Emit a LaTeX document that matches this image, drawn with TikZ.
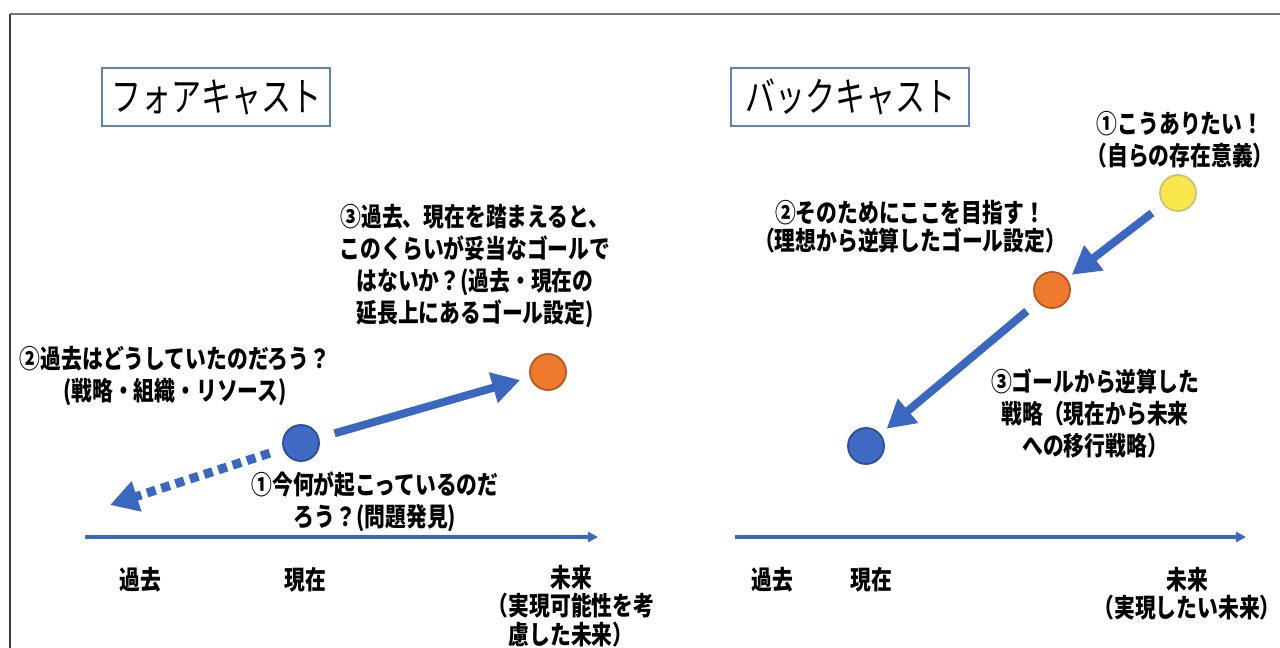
\documentclass[tikz,border=0pt]{standalone}
\usepackage{fontspec}
\newfontfamily\jp[FakeStretch=0.8]{Noto Sans CJK JP}
\newfontfamily\jpt[FakeStretch=0.75]{Noto Sans CJK JP}
\usetikzlibrary{arrows.meta}
\definecolor{arrowblue}{HTML}{3A68C0}
\definecolor{boxblue}{HTML}{5B82C4}
\definecolor{dotblue}{HTML}{3F6BC4}
\definecolor{dotblueb}{HTML}{2A4E9E}
\definecolor{dotorange}{HTML}{EE7A2E}
\definecolor{dotoranged}{HTML}{B8561E}
\definecolor{dotyellow}{HTML}{F8E64A}
\definecolor{dotyellowd}{HTML}{C9C27A}
\definecolor{framegray}{HTML}{3A3A3A}
\tikzset{
  lbl/.style={align=center, inner sep=0pt, font=\jp\bfseries\fontsize{13}{16}\selectfont},
  lblt/.style={align=center, inner sep=0pt, font=\jp\bfseries\fontsize{13}{14.2}\selectfont},
  ttl/.style={draw=boxblue, line width=0.8pt, inner sep=0pt, minimum height=29pt, font=\jpt\fontsize{20}{22}\selectfont},
  dot/.style={circle, minimum size=18pt, inner sep=0pt, line width=0.9pt},
  bigarrow/.style={draw=arrowblue, line width=4pt, -{Triangle[length=14pt,width=15pt]}},
  dotarrow/.style={draw=arrowblue, line width=4.5pt, dash pattern=on 4.5pt off 3pt, -{Triangle[length=14pt,width=15pt]}},
  axis/.style={draw=arrowblue, line width=1.6pt, -{Triangle[length=5pt,width=5pt]}}
}
\begin{document}
\begin{tikzpicture}[x=0.5pt,y=-0.5pt]
\useasboundingbox (0,0) rectangle (1280,648);
\fill[white] (0,0) rectangle (1280,648);
% frame
\coordinate (fTL) at (10,14);
\coordinate (fBL) at (10,648);
\coordinate (fTR) at (1280,14);
\draw[framegray, line width=1.4pt] (fBL) -- (fTL);
\draw[framegray!70, line width=0.6pt] (fTL) -- (fTR);

% ===== Left: forecast =====
\node[ttl, minimum width=114pt] (ttlL) at (216,97) {フォアキャスト};
\node[lbl] (t3L) at (475,266) {③過去、現在を踏まえると、\\このくらいが妥当なゴールで\\はないか？(過去・現在の\\延長上にあるゴール設定)};
\node[lbl] (t2L) at (175,376) {②過去はどうしていたのだろう？\\(戦略・組織・リソース)};
\node[lbl] (t1L) at (375,502) {①今何が起こっているのだ\\ろう？(問題発見)};
\node[dot, fill=dotorange, draw=dotoranged] (oL) at (548,372) {};
\node[dot, fill=dotblue, draw=dotblueb] (bL) at (301,443) {};
\coordinate (pastL) at (110,505);
\draw[bigarrow, shorten <=8pt, shorten >=5pt] (bL) -- (oL);
\draw[dotarrow, shorten <=7pt] (bL) -- (pastL);
\coordinate (axL0) at (85,537);
\coordinate (axL1) at (598,537);
\draw[axis] (axL0) -- (axL1);
\node[lbl] (kakoL) at (140,580) {過去};
\node[lbl] (genL) at (305,580) {現在};
\node[lblt] (miraiL) at (571,606) {未来\\（実現可能性を考\\慮した未来）};

% ===== Right: backcast =====
\node[ttl, minimum width=119pt] (ttlR) at (850,97) {バックキャスト};
\node[lbl] (t1R) at (1180,140) {①こうありたい！\\（自らの存在意義）};
\node[lblt] (t2R) at (910,227) {②そのためにここを目指す！\\（理想から逆算したゴール設定）};
\node[lbl] (t3R) at (1095,413) {③ゴールから逆算した\\戦略（現在から未来\\への移行戦略）};
\node[dot, fill=dotyellow, draw=dotyellowd] (yR) at (1178,193) {};
\node[dot, fill=dotorange, draw=dotoranged] (oR) at (1052,290) {};
\node[dot, fill=dotblue, draw=dotblueb] (bR) at (866,446) {};
\draw[bigarrow, shorten <=7pt, shorten >=3pt] (yR) -- (oR);
\draw[bigarrow, shorten <=7pt, shorten >=4pt] (oR) -- (bR);
\coordinate (axR0) at (735,537);
\coordinate (axR1) at (1246,537);
\draw[axis] (axR0) -- (axR1);
\node[lbl] (kakoR) at (772,580) {過去};
\node[lbl] (genR) at (871,580) {現在};
\node[lblt] (miraiR) at (1187,594) {未来\\（実現したい未来）};
\end{tikzpicture}
\end{document}
